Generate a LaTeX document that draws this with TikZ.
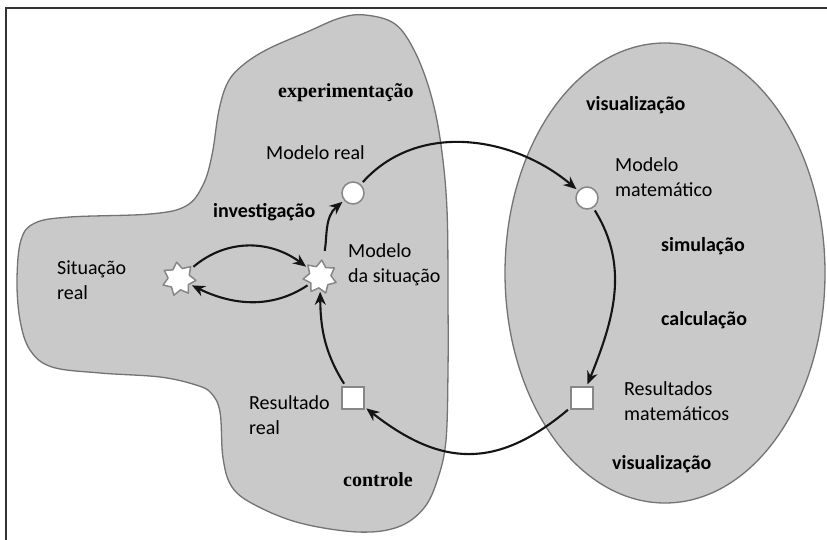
\documentclass[tikz,border=0pt]{standalone}
\usepackage{fontspec}
\setmainfont{Carlito}
\newfontfamily\serifb{Liberation Serif}
\usetikzlibrary{shapes.geometric,arrows.meta}
\definecolor{blobfill}{RGB}{201,201,201}
\definecolor{blobline}{RGB}{115,115,115}
\definecolor{shapeline}{RGB}{135,135,135}
\begin{document}
\begin{tikzpicture}[x=1pt,y=1pt,
  region/.style={fill=blobfill,draw=blobline,line width=1.3pt},
  lbl/.style={font=\fontsize{20}{25}\selectfont,inner sep=0pt,anchor=west,align=left},
  act/.style={font=\fontsize{20}{25}\selectfont\bfseries,inner sep=0pt,anchor=west},
  acts/.style={font=\fontsize{20}{25}\selectfont\serifb\bfseries,inner sep=0pt,anchor=west},
  burst/.style={star,star points=7,star point ratio=1.55,minimum size=34pt,inner sep=0pt,fill=white,draw=shapeline,line width=1.5pt,line join=round},
  ring/.style={circle,minimum size=22pt,inner sep=0pt,fill=white,draw=shapeline,line width=1.5pt},
  sqbox/.style={rectangle,minimum size=22pt,inner sep=0pt,fill=white,draw=shapeline,line width=1.5pt},
  arr/.style={-{Stealth[length=13pt,width=11pt]},line width=2.1pt,black!92,shorten <=3pt,shorten >=2pt}]
\useasboundingbox (0,0) rectangle (827,-540);
\clip (0,0) rectangle (827,-540);
\fill[white] (0,0) rectangle (827,-540);
\draw[black!80,line width=1.5pt] (6,-8) rectangle (850,-560);
% left region
\draw[region] plot[smooth cycle,tension=0.6] coordinates {
 (365,-15) (395,-24) (415,-52) (431,-95) (441,-145) (447,-210) (448,-300) (448,-370)
 (446,-440) (438,-478) (424,-508) (398,-527) (358,-532) (300,-523) (255,-505)
 (232,-487) (223,-458) (220,-412) (211,-393) (196,-385) (160,-377) (100,-373)
 (52,-367) (30,-350) (20,-320) (17,-280) (21,-240) (35,-223) (70,-217) (150,-214)
 (186,-206) (203,-185) (212,-155) (219,-110) (228,-82) (243,-65) (268,-49) (307,-32) (340,-18)};
% right region
\draw[region] (665,-273) ellipse [x radius=160, y radius=230];
% shapes
\node[burst,rotate=8] (sr) at (179,-279) {};
\node[burst,rotate=-6] (ms) at (320,-277) {};
\node[ring] (mr) at (353,-193) {};
\node[ring] (mm) at (587,-198) {};
\node[sqbox] (rr) at (353,-398) {};
\node[sqbox] (rm) at (582,-398) {};
% labels
\node[lbl] (lsr) at (57,-280) {Situação\\real};
\node[lbl] (lms) at (348,-265) {Modelo\\da situação};
\node[lbl] (lmr) at (266,-153) {Modelo real};
\node[lbl] (lrr) at (249,-415) {Resultado\\real};
\node[lbl] (lmm) at (615,-177) {Modelo\\matemático};
\node[lbl] (lrm) at (624,-401) {Resultados\\matemáticos};
\node[acts] (aexp) at (278,-93) {experimentação};
\node[act] (ainv) at (213,-212) {investigação};
\node[acts] (acon) at (343,-480) {controle};
\node[act] (avis1) at (586,-105) {visualização};
\node[act] (asim) at (661,-246) {simulação};
\node[act] (acal) at (661,-320) {calculação};
\node[act] (avis2) at (612,-464) {visualização};
% connectors
\draw[arr] (sr) to[out=38,in=145] (ms);
\draw[arr] (ms) to[out=215,in=-28] (sr);
\draw[arr,shorten <=10pt] (ms) to[out=82,in=220] (mr);
\draw[arr] (mr) to[out=48,in=140] (mm);
\draw[arr] (mm) to[out=-58,in=68] (rm);
\draw[arr] (rm) to[out=220,in=-38,looseness=1.2] (rr);
\draw[arr] (rr) to[out=122,in=-88] (ms);
\end{tikzpicture}
\end{document}
